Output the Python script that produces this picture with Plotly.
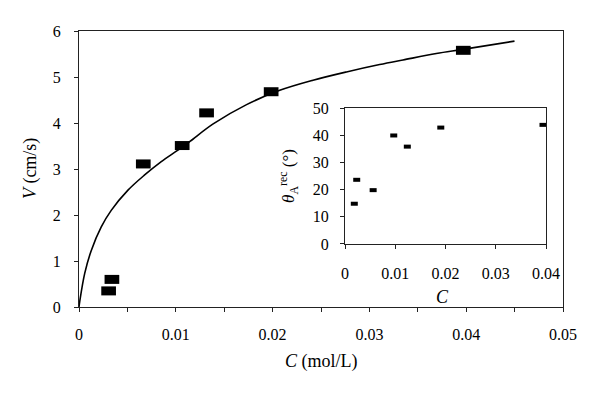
import plotly.graph_objects as go

# Main plot data: measured points
main_c = [0.00306, 0.0034, 0.00664, 0.01066, 0.01318, 0.01985, 0.0397]
main_v = [0.35, 0.60, 3.11, 3.51, 4.22, 4.68, 5.58]

# Fitted curve
curve_c = [0, 0.00007, 0.00059, 0.00127, 0.0023, 0.00333, 0.00506, 0.00678,
           0.0085, 0.01022, 0.01146, 0.01386, 0.01731, 0.02074, 0.02418,
           0.02763, 0.03106, 0.03347, 0.03691, 0.03966, 0.04499]
curve_v = [0, 0.11, 0.73, 1.23, 1.74, 2.10, 2.54, 2.87,
           3.16, 3.41, 3.60, 3.98, 4.40, 4.71, 4.93,
           5.11, 5.27, 5.37, 5.51, 5.60, 5.78]

# Inset data
inset_c = [0.00185, 0.00233, 0.0056, 0.0097, 0.0124, 0.01906, 0.0394]
inset_theta = [14.8, 23.6, 19.8, 39.9, 35.8, 42.8, 43.8]

main_xticks = [0, 0.01, 0.02, 0.03, 0.04, 0.05]
main_yticks = [0, 1, 2, 3, 4, 5, 6]
inset_xticks = [0, 0.01, 0.02, 0.03, 0.04]
inset_yticks = [0, 10, 20, 30, 40, 50]

FONT = "Liberation Serif, Times New Roman, DejaVu Serif, serif"
AX = "#222222"

fig = go.Figure()
fig.add_trace(go.Scatter(x=curve_c, y=curve_v, mode="lines",
                         line=dict(color="black", width=1.6, shape="spline"),
                         xaxis="x", yaxis="y", hoverinfo="skip"))
fig.add_trace(go.Scatter(x=main_c, y=main_v, mode="markers",
                         marker=dict(symbol="line-ew", size=10.5,
                                     line=dict(color="black", width=9)),
                         xaxis="x", yaxis="y"))
fig.add_trace(go.Scatter(x=inset_c, y=inset_theta, mode="markers",
                         marker=dict(symbol="line-ew", size=5,
                                     line=dict(color="black", width=4)),
                         xaxis="x2", yaxis="y2"))

common = dict(showgrid=False, zeroline=False, showline=True, linecolor=AX,
              linewidth=1.3, mirror=True, ticks="outside", ticklen=4,
              tickcolor=AX, tickwidth=1.2, automargin=False,
              tickfont=dict(family=FONT, size=16, color="black"))

fig.update_layout(
    template="none",
    width=600, height=394,
    margin=dict(l=79, r=37, t=31, b=87),
    paper_bgcolor="white", plot_bgcolor="white",
    showlegend=False,
    font=dict(family=FONT, size=16, color="black"),
    xaxis=dict(range=[0, 0.05], tickvals=main_xticks,
               ticktext=[f"{v:g}" for v in main_xticks],
               minor=dict(dtick=0.005, ticks="outside", ticklen=4, tickcolor=AX),
               ticklabelstandoff=9, domain=[0, 1], anchor="y", **common),
    yaxis=dict(range=[0, 6], tickvals=main_yticks, ticklabelstandoff=10,
               domain=[0, 1], anchor="x", **common),
    xaxis2=dict(range=[0, 0.04], tickvals=inset_xticks,
                ticktext=[f"{v:g}" for v in inset_xticks],
                ticklabelstandoff=11,
                domain=[0.5496, 0.9649], anchor="y2", **common),
    yaxis2=dict(range=[0, 50], tickvals=inset_yticks, ticklabelstandoff=8,
                domain=[0.2283, 0.721], anchor="x2", **common),
    annotations=[
        dict(text="<i>C</i> (mol/L)", x=0.5, y=-0.199, xref="paper", yref="paper",
             showarrow=False, xanchor="center", yanchor="middle",
             font=dict(family=FONT, size=18)),
        dict(text="<i>V</i> (cm/s)", x=-0.101, y=0.5, xref="paper", yref="paper",
             showarrow=False, xanchor="center", yanchor="middle", textangle=-90,
             font=dict(family=FONT, size=18)),
        dict(text="<i>C</i>", x=0.752, y=0.036, xref="paper", yref="paper",
             showarrow=False, xanchor="center", yanchor="middle",
             font=dict(family=FONT, size=18)),
        dict(text="<i>θ</i><sub>A</sub><sup>rec</sup> (°)", x=0.434, y=0.475,
             xref="paper", yref="paper", showarrow=False, xanchor="center",
             yanchor="middle", textangle=-90, font=dict(family=FONT, size=17)),
    ],
)

fig.write_html("out.html", post_script="document.body.style.margin='0';",
               config={"displayModeBar": False})
